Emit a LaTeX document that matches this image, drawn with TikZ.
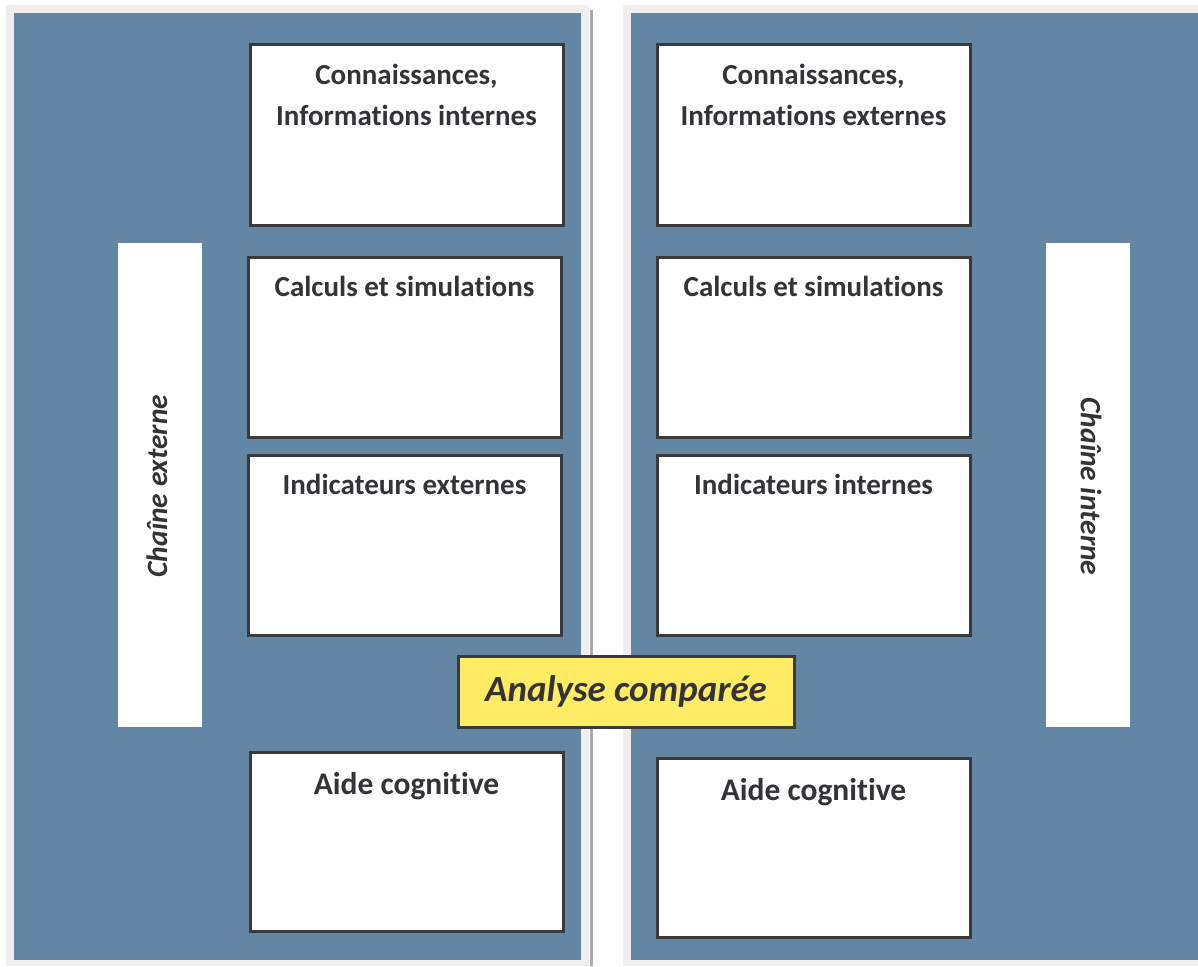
\documentclass[tikz,border=0pt]{standalone}
\usepackage{fontspec}
\setmainfont{Carlito}[Ligatures=NoCommon]
\definecolor{panelgray}{HTML}{F0EFED}
\definecolor{panelblue}{HTML}{6486A5}
\definecolor{boxline}{HTML}{3A3A3C}
\definecolor{txt}{HTML}{333338}
\definecolor{divline}{HTML}{A8AAB8}
\definecolor{yel}{HTML}{FFEB64}
\tikzset{
  x=1pt, y=-1pt,
  wbox/.style={draw=boxline, line width=3pt, fill=white, minimum width=313pt, minimum height=180pt, inner sep=0pt},
  btext/.style={anchor=north, text=txt, font=\fontsize{29}{41}\selectfont\bfseries, align=center, inner sep=0pt},
  bigtext/.style={btext, font=\fontsize{31.5}{41}\selectfont\bfseries},
  vbar/.style={fill=white, draw=none, minimum width=84pt, minimum height=484pt, inner sep=0pt},
  vtext/.style={text=txt, font=\fontsize{29.5}{30}\selectfont\bfseries\itshape, inner sep=0pt},
}
\begin{document}
\begin{tikzpicture}
\useasboundingbox (0,0) rectangle (1198,966);
\fill[white] (0,0) rectangle (1198,966);
% panels
\fill[panelgray] (6,5) rectangle (589,966);
\fill[panelblue] (14,13) rectangle (581,960);
\draw[divline, line width=3pt] (591,10) -- (591,966);
\fill[panelgray] (623,5) rectangle (1198,966);
\fill[panelblue] (631,13) rectangle (1198,960);
% vertical bars
\node[vbar] (barL) at (160,485) {};
\node[vbar] (barR) at (1088,485) {};
\node[vtext, rotate=90] (tL) at (157,486) {Chaîne externe};
\node[vtext, rotate=-90] (tR) at (1091,486.5) {Chaîne interne};
% left boxes
\node[wbox] (L1) at (406.5,135) {};
\node[wbox] (L2) at (404.5,347) {};
\node[wbox] (L3) at (404.5,545) {};
\node[wbox, minimum height=179pt] (L4) at (406.5,841.5) {};
\node[btext] at ([yshift=-20.5pt]L1.north) {Connaissances,\\Informations internes};
\node[btext] at ([yshift=-20.5pt]L2.north) {Calculs et simulations};
\node[btext] at ([yshift=-20.5pt]L3.north) {Indicateurs externes};
\node[bigtext] at ([yshift=-21.5pt]L4.north) {Aide cognitive};
% right boxes
\node[wbox] (R1) at (813.5,135) {};
\node[wbox] (R2) at (813.5,347) {};
\node[wbox] (R3) at (813.5,545) {};
\node[wbox, minimum height=179pt] (R4) at (813.5,847.5) {};
\node[btext] at ([yshift=-20.5pt]R1.north) {Connaissances,\\Informations externes};
\node[btext] at ([yshift=-20.5pt]R2.north) {Calculs et simulations};
\node[btext] at ([yshift=-20.5pt]R3.north) {Indicateurs internes};
\node[bigtext] at ([yshift=-21.5pt]R4.north) {Aide cognitive};
% central box
\node[draw=boxline, line width=3pt, fill=yel, minimum width=336pt, minimum height=71pt, inner sep=0pt,
  text=txt, font=\fontsize{37}{40}\selectfont\bfseries\itshape] (AC) at (626,691.5) {Analyse comparée};
\end{tikzpicture}
\end{document}
